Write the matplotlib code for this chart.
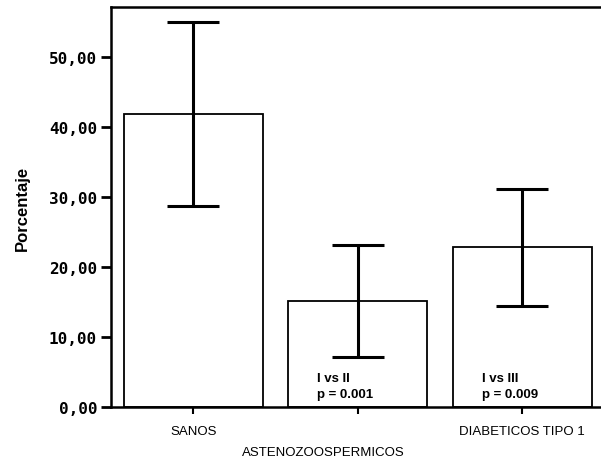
import numpy as np
import matplotlib
matplotlib.use('Agg')
from matplotlib import pyplot as plt
from matplotlib.ticker import FuncFormatter

# datos
grupos = ['SANOS', 'ASTENOZOOSPERMICOS', 'DIABETICOS TIPO 1']
media = [41.8, 15.1, 22.8]
ic_inf = [28.7, 7.1, 14.4]
ic_sup = [55.0, 23.1, 31.2]
notas = ['', 'I vs II\np = 0.001', 'I vs III\np = 0.009']

x = np.arange(len(grupos))
err = [np.array(media) - np.array(ic_inf), np.array(ic_sup) - np.array(media)]

fig = plt.figure(figsize=(6.01, 4.60), dpi=100)
ax = fig.add_axes([0.1847, 0.1130, 0.8153, 0.8696])

ax.bar(x, media, width=0.845, color='white', edgecolor='black', linewidth=1.3, zorder=2)
ax.errorbar(x, media, yerr=err, fmt='none', ecolor='black', elinewidth=2.2,
            capsize=19, capthick=2.2, zorder=3)

# textos de significacion dentro de las barras
for xi, nota in zip(x, notas):
    if nota:
        ax.text(xi - 0.245, 1.0, nota, ha='left', va='bottom', fontsize=9.5,
                fontweight='bold', family='Liberation Sans', linespacing=1.5, zorder=4)

ax.set_xlim(-0.5, 2.48)
ax.set_ylim(0, 57.14)
ax.set_yticks([0, 10, 20, 30, 40, 50])
ax.yaxis.set_major_formatter(FuncFormatter(lambda v, p: f'{v:.2f}'.replace('.', ',')))
for lab in ax.get_yticklabels():
    lab.set_family('DejaVu Sans Mono')
    lab.set_fontweight('bold')
    lab.set_fontsize(11.5)

ax.set_xticks(x)
ax.set_xticklabels([grupos[0], '', grupos[2]], family='Liberation Sans', fontsize=9.5)
ax.annotate(grupos[1], xy=(1, 0), xycoords=('data', 'axes fraction'),
            xytext=(-25, -28), textcoords='offset points', ha='center', va='top',
            family='Liberation Sans', fontsize=9.5, annotation_clip=False)

ax.tick_params(axis='y', direction='out', length=7, width=2, pad=3)
ax.tick_params(axis='x', direction='out', length=5, width=1.5, pad=8)

ax.set_ylabel('Porcentaje', family=['Liberation Sans Narrow', 'Liberation Sans'],
              fontweight='bold', fontsize=12, labelpad=14)

ax.spines['right'].set_visible(False)
for s in ['left', 'top', 'bottom']:
    ax.spines[s].set_linewidth(1.8)

fig.savefig('out.png', dpi=100)
